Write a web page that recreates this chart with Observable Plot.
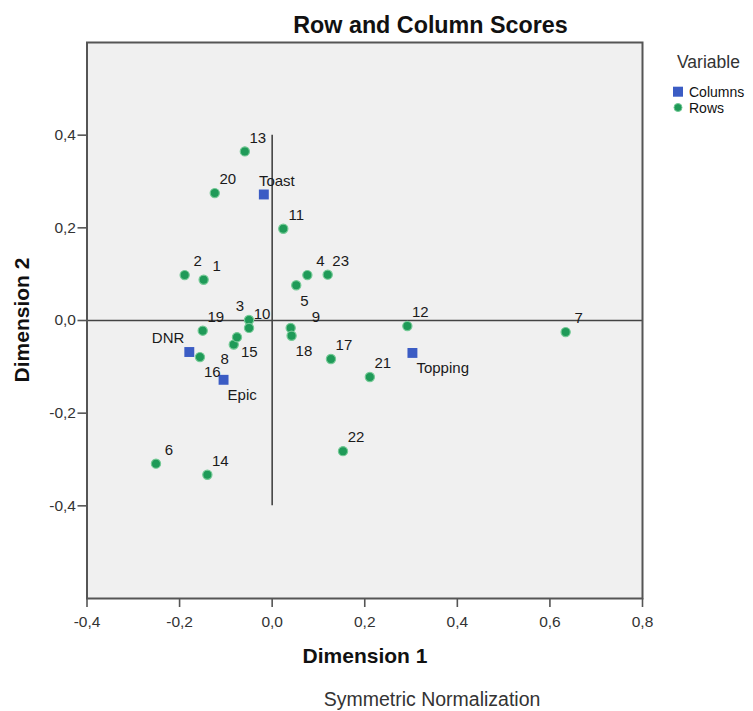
<!DOCTYPE html>
<html><head><meta charset="utf-8">
<script src="https://cdn.jsdelivr.net/npm/d3@7"></script>
<script src="https://cdn.jsdelivr.net/npm/@observablehq/plot@0.6"></script>
<style>body{margin:0;background:#fff;} svg{display:block;}</style>
</head><body><div id="chart"></div>
<script>
// ---- data ----
const rowLabels = ["1","2","3","4","5","6","7","8","9","10","11","12","13","14","15","16","17","18","19","20","21","22","23"];
const rowDim1 = [-0.148,-0.189,-0.050,0.076,0.052,-0.251,0.634,-0.083,0.040,-0.050,0.024,0.292,-0.059,-0.140,-0.076,-0.156,0.127,0.042,-0.150,-0.124,0.211,0.153,0.120];
const rowDim2 = [0.088,0.098,0.001,0.098,0.076,-0.309,-0.025,-0.052,-0.016,-0.016,0.198,-0.012,0.365,-0.333,-0.036,-0.079,-0.083,-0.033,-0.022,0.275,-0.122,-0.282,0.099];
const rowLabelPlace = ["ne","ne","nw","ne","se","ne","ne","sw","e","ne","ne","ne","ne","ne","se","se","ne","se","ne","ne","ne","ne","ne"];

const colLabels = ["Toast","DNR","Epic","Topping"];
const colDim1 = [-0.018,-0.179,-0.105,0.303];
const colDim2 = [0.272,-0.068,-0.128,-0.070];
const colLabelPlace = ["ne","nw","se","se"];

const xTicks = [-0.4,-0.2,0.0,0.2,0.4,0.6,0.8];
const yTicks = [-0.4,-0.2,0.0,0.2,0.4];
const xDomain = [-0.4,0.8];
const yDomain = [-0.6,0.6];
const refVertical = [{x:0, y1:-0.4, y2:0.4}];
const refHorizontal = [{y:0, x1:-0.4, x2:0.8}];
const legendTitle = "Variable";
const legendItems = ["Columns","Rows"];

// ---- styles ----
const FONT = "'Liberation Sans', Arial, Helvetica, sans-serif";
const BLUE = "#3b5cc4";
const GREEN = "#1f9a58";
const GREEN_EDGE = "#74c995";
const FRAME = "#555555";
const place = {
  ne: {textAnchor:"middle", dx:13, dy:-13.5},
  se: {textAnchor:"start", dx:4, dy:15.5},
  nw: {textAnchor:"end", dx:-5, dy:-13.5},
  sw: {textAnchor:"end", dx:-5, dy:14.5},
  e:  {textAnchor:"start", dx:21, dy:-11}
};

const rows = rowLabels.map((l,i)=>({label:l, d1:rowDim1[i], d2:rowDim2[i], place:rowLabelPlace[i]}));
const cols = colLabels.map((l,i)=>({label:l, d1:colDim1[i], d2:colDim2[i], place:colLabelPlace[i]}));
const allPts = cols.concat(rows);
const fmt = d => d.toFixed(1).replace(".", ",");

const labelMarks = Object.entries(place).map(([k,p]) =>
  Plot.text(allPts.filter(d=>d.place===k), {x:"d1", y:"d2", text:"label",
    textAnchor:p.textAnchor, dx:p.dx, dy:p.dy, lineAnchor:"middle",
    fontSize:15, fill:"#1a1a1a", fontFamily:FONT}));

const W = 753, H = 711;
const chart = Plot.plot({
  width: W, height: H,
  marginLeft: 86.5, marginRight: 111, marginTop: 42, marginBottom: 113,
  style: {fontFamily: FONT, fontSize: "15.5px", background: "#fff", color:"#333"},
  x: {domain: xDomain, label: null},
  y: {domain: yDomain, label: null},
  marks: [
    Plot.frame({fill:"#f0f0f0", stroke:"none"}),
    Plot.axisX({ticks: xTicks, tickFormat: fmt, tickSize: 9, tickPadding: 8, stroke: FRAME, strokeWidth: 1.6, fill:"#333", label:null}),
    Plot.axisY({ticks: yTicks, tickFormat: fmt, tickSize: 9, tickPadding: 2, stroke: FRAME, strokeWidth: 1.6, fill:"#333", label:null}),
    Plot.ruleX(refVertical, {x:"x", y1:"y1", y2:"y2", stroke:"#444", strokeWidth:1.6}),
    Plot.ruleY(refHorizontal, {y:"y", x1:"x1", x2:"x2", stroke:"#444", strokeWidth:1.6}),
    Plot.dot(cols, {x:"d1", y:"d2", symbol:"square", r:5.6, fill:BLUE, stroke:"none"}),
    Plot.dot(rows, {x:"d1", y:"d2", r:4.6, fill:GREEN, stroke:GREEN_EDGE, strokeWidth:1.2}),
    ...labelMarks,
    Plot.frame({stroke: FRAME, strokeWidth: 2})
  ]
});
document.getElementById("chart").appendChild(chart);

// ---- titles, legend, caption ----
const svg = d3.select(chart);
const addText = (txt, x, y, size, weight, anchor) =>
  svg.append("text").attr("x", x).attr("y", y).attr("text-anchor", anchor || "middle")
    .attr("font-family", FONT).attr("font-size", size).attr("font-weight", weight || "normal")
    .attr("fill", "#111").text(txt);

addText("Row and Column Scores", 430.5, 33, 23.3, "bold");
addText("Dimension 1", 365, 663, 21, "bold");
svg.append("text").attr("transform", "translate(22,320) rotate(-90)").attr("dy", "0.35em")
  .attr("text-anchor", "middle").attr("font-family", FONT).attr("font-size", 21)
  .attr("font-weight", "bold").attr("fill", "#111").text("Dimension 2");
addText("Symmetric Normalization", 432, 706, 19.5, "normal").attr("fill", "#333");

addText(legendTitle, 677, 68, 17.5, "normal", "start").attr("fill", "#333");
svg.append("rect").attr("x", 673).attr("y", 86.7).attr("width", 10).attr("height", 10).attr("fill", BLUE);
addText(legendItems[0], 689, 96.8, 14, "normal", "start");
svg.append("circle").attr("cx", 678).attr("cy", 107.5).attr("r", 4).attr("fill", GREEN).attr("stroke", GREEN_EDGE).attr("stroke-width", 1);
addText(legendItems[1], 689, 112.6, 14, "normal", "start");
</script></body></html>
